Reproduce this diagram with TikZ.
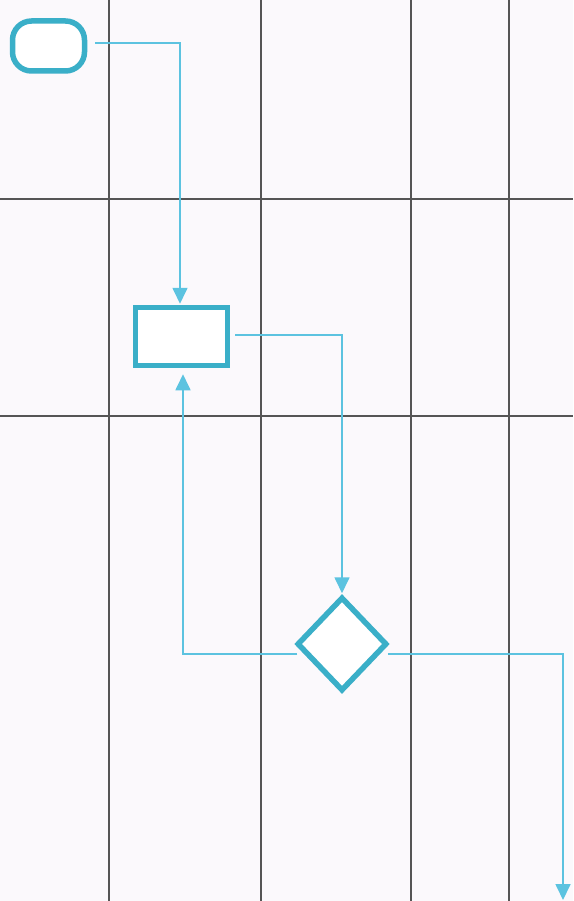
\documentclass[tikz,border=0pt]{standalone}
\usetikzlibrary{arrows.meta,shapes.geometric}
\definecolor{bg}{HTML}{FBF9FC}
\definecolor{gridc}{HTML}{555555}
\definecolor{shapec}{HTML}{3AAFC8}
\definecolor{connc}{HTML}{5CC3E0}
\tikzset{
  gridline/.style={draw=gridc, line width=1.3pt},
  shapebox/.style={draw=shapec, line width=5.5pt, fill=white, inner sep=0pt},
  conn/.style={draw=connc, line width=1.7pt, -{Triangle[length=16pt,width=15pt]}}
}
\begin{document}
\begin{tikzpicture}[x=1pt,y=-1pt]
\useasboundingbox (0,0) rectangle (573,901);
\fill[bg] (0,0) rectangle (573,901);
% lanes
\foreach \x in {109,261,411,509} \draw[gridline] (\x,0) -- (\x,901);
\foreach \y in {199,416} \draw[gridline] (0,\y) -- (573,\y);
% shapes
\node[shapebox, rounded corners=19pt, minimum width=72pt, minimum height=50pt] (term) at (48.5,46) {};
\node[shapebox, minimum width=92pt, minimum height=58pt] (box) at (181.5,336.5) {};
\node[shapebox, diamond, minimum width=90pt, minimum height=94pt] (dia) at (342,644) {};
\coordinate (endpt) at (563,900);
% connectors
\draw[conn] ([xshift=8pt,yshift=3pt]term.east) -| ([xshift=-1.5pt,yshift=1pt]box.north);
\draw[conn] ([xshift=5pt,yshift=1.5pt]box.east) -| ([yshift=1pt]dia.north);
\draw[conn, shorten >=6pt] ([xshift=3pt,yshift=-10pt]dia.west) -| ([xshift=1.5pt]box.south);
\draw[conn] ([xshift=-2pt,yshift=-10pt]dia.east) -| (endpt);
\end{tikzpicture}
\end{document}
